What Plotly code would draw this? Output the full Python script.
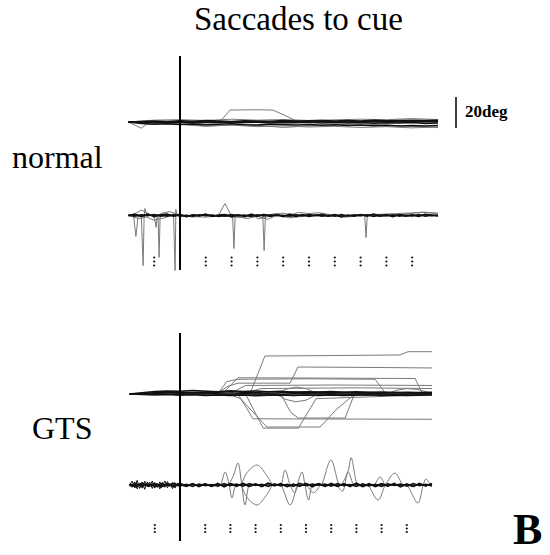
import plotly.graph_objects as go

# ---------------- data (time in ms relative to cue, values in deg) ----------------
T50 = [-200, -150, -100, -50, 0, 50, 100, 150, 200, 250, 300, 350, 400, 450, 500,
       550, 600, 650, 700, 750, 800, 850, 900, 950, 1000]
T25 = [-200, -175, -150, -125, -100, -75, -50, -25, 0, 25, 50, 75, 100, 125, 150, 175,
       200, 225, 250, 275, 300, 325, 350, 375, 400, 425, 450, 475, 500, 525, 550, 575,
       600, 625, 650, 675, 700, 725, 750, 775, 800, 825, 850, 875, 900, 925, 950, 975, 1000]
T10_PRE = [-200, -190, -180, -170, -160, -150, -140, -130, -120, -110, -100, -90, -80,
           -70, -60, -50, -40, -30, -20, -10, 0]
TICKS = [-100, 100, 200, 300, 400, 500, 600, 700, 800, 900]
SCALE_DEG = 20

# normal - eye position (black bundle)
NP_B1 = [0, 0.4, 0.6, 0.3, 0.8, 0.5, 0.9, 0.6, 0.4, 0.8, 0.7, 0.5, 0.9, 0.6, 0.8, 1.0, 0.7, 0.9, 0.6, 1.1, 0.8, 1.0, 1.2, 0.9, 1.1]
NP_B2 = [0, -0.3, -0.1, -0.5, -0.2, -0.6, -0.3, -0.1, -0.5, -0.4, -0.2, -0.6, -0.3, -0.5, -0.2, -0.7, -0.4, -0.6, -0.3, -0.8, -0.5, -0.7, -0.4, -0.9, -0.6]
NP_B3 = [0, -1.0, -1.4, -1.1, -1.6, -1.3, -1.8, -1.5, -1.2, -1.7, -1.9, -1.4, -1.8, -2.0, -1.6, -2.1, -1.8, -2.2, -1.9, -2.4, -2.1, -2.5, -2.2, -2.6, -2.3]
NP_B4 = [0, 0.1, 0.3, 0.0, 0.2, -0.1, 0.3, 0.1, 0.2, 0.0, 0.4, 0.2, 0.1, 0.3, 0.0, 0.2, 0.4, 0.1, 0.3, 0.2, 0.5, 0.3, 0.1, 0.4, 0.2]
# normal - eye position (grey single trials)
NP_G1_T = [-200, -100, 0, 100, 150, 167, 194, 300, 360, 410, 453, 600, 800, 1000]
NP_G1_Y = [0, 0.3, 0.2, 0.4, 0.3, 2.5, 7.7, 7.9, 7.7, 4.0, 0.5, 0.2, -0.3, 0.2]
NP_G2_T = [-200, -170, -150, -130, -80, 0, 100, 200, 300, 400, 500, 600, 700, 800, 900, 1000]
NP_G2_Y = [0, -2.5, -4.0, -1.5, -1.0, -1.5, -2.5, -2.0, -3.0, -2.5, -3.2, -2.8, -3.5, -3.0, -3.8, -3.2]
NP_G3_T = [-200, -100, 0, 100, 200, 300, 400, 500, 600, 700, 800, 900, 1000]
NP_G3_Y = [0, 1.2, 1.5, 1.0, 1.8, 1.2, 1.6, 1.0, 1.4, 1.8, 1.5, 2.2, 1.6]
NP_G4_T = [-200, -50, 100, 250, 400, 550, 700, 850, 1000]
NP_G4_Y = [0, -0.8, -2.8, -1.5, -3.5, -2.0, -1.2, -2.6, -3.6]

# normal - eye velocity (black bundle)
NV_B1 = [0.3, -0.4, 0.5, -0.2, 0.6, -0.5, 0.2, -0.3, 0.4, -0.6, 0.3, -0.1, 0.5, -0.4, 0.2, -0.5, 0.6, -0.2, 0.3, -0.6,
         0.4, -0.3, 0.5, -0.1, 0.2, -0.5, 0.4, -0.3, 0.6, -0.2, 0.3, -0.4, 0.5, -0.6, 0.2, -0.3, 0.4, -0.1, 0.6, -0.5,
         0.3, -0.2, 0.5, -0.4, 0.1, -0.3, 0.6, -0.2, 0.4]
NV_B2 = [-0.2, 0.5, -0.6, 0.3, -0.1, 0.4, -0.5, 0.6, -0.3, 0.2, -0.4, 0.5, -0.2, 0.3, -0.6, 0.1, -0.3, 0.5, -0.4, 0.2,
         -0.5, 0.6, -0.1, 0.4, -0.3, 0.2, -0.6, 0.5, -0.2, 0.3, -0.4, 0.1, -0.5, 0.6, -0.3, 0.4, -0.2, 0.5, -0.6, 0.3,
         -0.1, 0.4, -0.5, 0.2, -0.3, 0.6, -0.4, 0.1, -0.2]
NV_B3 = [0.0, 0.8, -0.3, 1.0, -0.6, 0.5, 0.9, -0.4, 0.7, -0.8, 0.4, -0.2, 0.9, -0.7, 0.3, 0.6, -0.9, 0.2, -0.5, 0.8,
         -0.3, 0.7, -0.6, 0.4, -0.8, 0.9, -0.2, 0.5, -0.7, 0.3, 0.8, -0.4, 0.6, -0.9, 0.2, -0.3, 0.7, -0.5, 0.9, -0.1,
         0.4, -0.8, 0.6, -0.2, 0.5, -0.6, 0.8, 0.3, -0.4]
# normal - eye velocity (grey trials with saccadic spikes)
NV_S1_T = [-200, -180, -171, -162, -150, -143, -139, -136, -128, -100, -93, -88, -85, -81, -77, -60, -25, -19, -16, -12, 0, 1000]
NV_S1_Y = [0, 0, -13.5, 0, 0, -32.3, 0, 4.5, 0, 0, -7.7, 0, 0, -27.1, 0, 0, 0, -35.5, 3.9, 0, 0, 0]
NV_S2_T = [-200, 150, 160, 174, 188, 198, 204, 209, 214, 300, 321, 326, 331, 700, 716, 721, 726, 1000]
NV_S2_Y = [0, 0, 3.5, 7.7, 3.5, 0, 0, -21.3, 0, 0, 0, -22.6, 0, 0, 0, -14.2, 0, 0]
NV_W1_T = [-200, -170, -150, -120, -100, -70, -40, 0, 50, 100, 150, 250, 280, 300, 330, 360, 400, 430, 460, 500,
           540, 580, 620, 700, 800, 900, 950, 1000]
NV_W1_Y = [0, 1.5, 3.5, 1.0, -1.5, 1.5, 2.5, 0.5, -1, 0.5, 0, -1.5, 1.2, -2.0, -1.5, 1.0, 1.5, 0.5, 2.0, 1.2,
           1.8, 0.5, -0.5, 0.3, 0.8, 1.5, 2.0, 1.2]
NV_W2_T = [-200, -160, -130, -100, -60, -30, 0, 100, 200, 260, 300, 340, 380, 420, 480, 560, 640, 720, 800, 880, 940, 1000]
NV_W2_Y = [0, -2, -1, -3, -1.5, 0.5, -0.5, -1, 0.5, -2, -0.5, -2.5, 0.5, -1.5, -0.5, 0.5, -1, 0, -0.5, 1, 2.2, 1.5]

# GTS - eye position (black bundle)
GP_B1 = [0, 0.5, 0.8, 1.0, 1.2, 0.9, 1.3, 1.1, 1.5, 1.2, 1.0, 1.4, 1.1, 1.3, 1.0, 1.2, 0.9, 1.1, 0.8, 1.0, 0.7, 0.9, 0.6, 0.8, 0.7]
GP_B2 = [0, -0.3, -0.6, -0.4, -0.8, -0.5, -0.9, -0.6, -1.0, -0.7, -1.1, -0.8, -0.6, -1.0, -0.7, -0.9, -0.6, -1.0, -0.8, -0.5, -0.9, -0.7, -1.0, -0.8, -0.6]
GP_B3 = [0, 0.1, 0.3, -0.1, 0.2, 0.0, 0.4, 0.1, -0.2, 0.3, 0.0, 0.2, -0.1, 0.1, 0.3, 0.0, 0.2, -0.1, 0.1, 0.0, 0.2, -0.2, 0.1, 0.0, 0.1]
GP_B4 = [0, 1.0, 1.6, 2.0, 1.7, 2.2, 1.8, 1.5, 2.1, 1.6, 1.9, 1.4, 1.7, 1.2, 1.5, 1.3, 1.6, 1.2, 1.4, 1.1, 1.3, 1.0, 1.2, 0.9, 1.1]
# GTS - eye position (grey single trials)
GP_G = [
    ([-200, 100, 278, 337, 600, 873, 905, 1000], [0, 0.5, 0.3, 24.5, 24.8, 25.2, 27.3, 27.3]),
    ([-200, 150, 190, 230, 437, 468, 700, 1000], [0, 0.5, 5, 7, 7, 17.4, 17.2, 16.8]),
    ([-200, 150, 185, 230, 500, 774, 813, 1000], [0, 0, 8, 9.5, 9.8, 9.5, 1, 0.5]),
    ([-200, 170, 230, 600, 933, 960, 1000], [0, 0.5, 10.5, 10.3, 10, 1, 0.5]),
    ([-200, 200, 260, 600, 1000], [0, 0.5, 5.5, 5.8, 5.5]),
    ([-200, 250, 320, 700, 1000], [0, 0, 3.5, 4, 3.5]),
    ([-200, 200, 240, 345, 556, 620, 687, 1000], [0, -0.5, -3, -21.3, -21.3, -10, -1, -0.5]),
    ([-200, 230, 290, 1000], [0, 0, -16, -16.3]),
    ([-200, 400, 440, 470, 655, 690, 1000], [0, 0, -12, -15.5, -15.5, -1, 0]),
    ([-200, 260, 330, 470, 540, 1000], [0, 0, -22, -22, -3, -0.5]),
    ([-200, 380, 420, 460, 500, 540, 1000], [0, 0, -3.5, -5, -4, -0.5, 0]),
    ([-200, 380, 420, 460, 500, 540, 1000], [0, 0, 3, 4.5, 3.5, 0.5, 0]),
    ([-200, 820, 860, 900, 940, 980, 1000], [0, 0, 2.5, 3.5, 3, 1, 0.5]),
]

# GTS - eye velocity (black bundle)
GV_E1 = [0, 2.5, -1.8, 3.0, -2.2, 1.5, -2.8, 2.0, -1.2, 2.6, -2.0, 1.0, -2.5, 1.8, -1.5, 2.2, -1.0, 1.6, -2.0, 1.2, 0]
GV_E2 = [0, -1.5, 2.0, -2.5, 1.2, -2.0, 2.4, -1.0, 1.8, -2.2, 1.4, -1.6, 2.0, -1.2, 2.6, -1.8, 1.0, -2.3, 1.5, -0.8, 0]
GV_B1 = [0.6, -0.8, 1.0, -0.5, 0.9, -1.1, 0.4, -0.7, 0.3, -0.9, 0.7, -0.4, 0.8, -1.0, 0.5, -0.6, 0.9, -0.3, 0.6, -1.0,
         0.4, -0.8, 1.1, -0.5, 0.7, -0.9, 0.3, -0.6, 0.8, -0.4, 1.0, -0.7, 0.5, -0.9, 0.6, -0.3, 0.8, -1.1, 0.4, -0.6,
         0.9, -0.5, 0.7, -0.8, 0.3, -1.0, 0.6, -0.4, 0.8]
GV_B2 = [-0.5, 0.9, -0.7, 0.6, -1.0, 0.8, -0.3, 1.1, -0.6, 0.4, -0.9, 0.7, -0.5, 0.3, -0.8, 1.0, -0.4, 0.6, -0.7, 0.9,
         -0.3, 0.5, -1.0, 0.8, -0.6, 0.4, -0.9, 1.1, -0.5, 0.7, -0.2, 0.6, -0.8, 0.9, -0.4, 0.3, -1.0, 0.7, -0.6, 0.5,
         -0.9, 0.8, -0.3, 0.6, -0.7, 1.0, -0.5, 0.4, -0.6]
GV_B3 = [0.2, -1.2, 1.4, -0.9, 1.1, -1.3, 0.8, -1.0, 1.2, -0.7, 0.9, -1.1, 0.6, -0.8, 1.0, -1.2, 0.7, -0.9, 1.1, -0.6,
         0.8, -1.0, 1.2, -0.5, 0.9, -1.1, 0.6, -0.8, 1.0, -1.3, 0.7, -0.9, 1.1, -0.6, 0.8, -1.0, 1.3, -0.7, 0.9, -1.1,
         0.5, -0.8, 1.0, -1.2, 0.7, -0.9, 1.1, -0.6, 0.8]
# GTS - eye velocity (grey trials, smooth oscillations; flat guard samples around each burst)
GV_G = [
    ([-200, 180, 190, 212, 230, 245, 258, 275, 285, 390, 400, 417, 437, 455, 470, 480, 1000],
     [0, 0, 0, 6, 14.2, 0, -12.9, 0, 0, 0, 0, 9.7, 0, -5, 0, 0, 0]),
    ([-200, 230, 240, 266, 306, 345, 370, 380, 1000], [0, 0, 0, 8, 12.9, 6, 0, 0, 0]),
    ([-200, 230, 240, 266, 306, 345, 370, 380, 490, 500, 530, 560, 570, 1000],
     [0, 0, 0, -8, -12.9, -6, 0, 0, 0, 0, -5, 0, 0, 0]),
    ([-200, 150, 160, 179, 195, 206, 222, 232, 390, 400, 437, 465, 484, 496, 510, 525, 535, 1000],
     [0, 0, 0, 8.4, 0, -8.4, 0, 0, 0, 0, -12.9, 0, 8.4, 0, -9.7, 0, 0, 0]),
    ([-200, 550, 560, 599, 635, 667, 679, 705, 715, 1000], [0, 0, 0, 16.1, 0, 9, 17.7, 0, 0, 0]),
    ([-200, 735, 745, 786, 815, 853, 885, 895, 1000], [0, 0, 0, -9.7, 0, 7.7, 0, 0, 0]),
    ([-200, 890, 900, 944, 965, 976, 995, 1000], [0, 0, 0, -11.6, 0, 3.9, 0, 0]),
    ([-200, 610, 620, 645, 667, 690, 700, 760, 770, 794, 815, 825, 1000],
     [0, 0, 0, -4, 8.4, 0, 0, 0, 0, 5.2, 0, 0, 0]),
]

# ---------------- layout helpers ----------------
W, H = 550, 555
PX_PER_DEG = 1.55
CUE_PX = 180
K_TOP = 0.258   # px per ms, top block
K_BOT = 0.252   # px per ms, bottom block


def ypx(px):
    return -px / PX_PER_DEG


OFF_NP = ypx(122)
OFF_NV = ypx(215.5)
OFF_GP = ypx(394)
OFF_GV = ypx(485)

BLACK = "#111111"
GREY = "#7a7a7a"

fig = go.Figure()


def add(t, vals, off, axis, color=BLACK, width=1.1, shape="linear"):
    n = min(len(t), len(vals))
    fig.add_trace(go.Scatter(
        x=t[:n], y=[off + v for v in vals[:n]], mode="lines", xaxis=axis, yaxis="y",
        line=dict(color=color, width=width, shape=shape),
        hoverinfo="skip", showlegend=False))


# normal position
add(NP_G1_T, NP_G1_Y, OFF_NP, "x", GREY, 1)
add(NP_G2_T, NP_G2_Y, OFF_NP, "x", GREY, 1)
add(NP_G3_T, NP_G3_Y, OFF_NP, "x", GREY, 1)
add(NP_G4_T, NP_G4_Y, OFF_NP, "x", GREY, 1)
for s in (NP_B1, NP_B2, NP_B3, NP_B4):
    add(T50, s, OFF_NP, "x", BLACK, 1.5)

# normal velocity
add(NV_W1_T, NV_W1_Y, OFF_NV, "x", GREY, 1)
add(NV_W2_T, NV_W2_Y, OFF_NV, "x", GREY, 1)
add(NV_S1_T, NV_S1_Y, OFF_NV, "x", GREY, 1)
add(NV_S2_T, NV_S2_Y, OFF_NV, "x", GREY, 1)
for s in (NV_B1, NV_B2, NV_B3):
    add(T25, s, OFF_NV, "x", BLACK, 1.5)

# GTS position
for tt, yy in GP_G:
    add(tt, yy, OFF_GP, "x2", GREY, 1)
for s in (GP_B1, GP_B2, GP_B3, GP_B4):
    add(T50, s, OFF_GP, "x2", BLACK, 1.5)

# GTS velocity
for tt, yy in GV_G:
    add(tt, yy, OFF_GV, "x2", GREY, 1, "spline")
add(T10_PRE, GV_E1, OFF_GV, "x2", BLACK, 1)
add(T10_PRE, GV_E2, OFF_GV, "x2", BLACK, 1)
for s in (GV_B1, GV_B2, GV_B3):
    add(T25, s, OFF_GV, "x2", BLACK, 1.5)

# time markers (dotted ticks)
for axis, rows in (("x", (257.5, 261.5, 265.5)), ("x2", (525, 528.5, 532))):
    xs, ys = [], []
    for tk in TICKS:
        for r in rows:
            xs.append(tk)
            ys.append(ypx(r))
    fig.add_trace(go.Scatter(x=xs, y=ys, mode="markers", xaxis=axis, yaxis="y",
                             marker=dict(color=BLACK, size=2.2, line=dict(width=0)),
                             hoverinfo="skip", showlegend=False))

# cue onset lines
fig.add_shape(type="line", xref="x", yref="y", x0=0, x1=0, y0=ypx(56), y1=ypx(270),
              line=dict(color="black", width=2))
fig.add_shape(type="line", xref="x2", yref="y", x0=0, x1=0, y0=ypx(333), y1=ypx(541),
              line=dict(color="black", width=2))
# scale bar
sb_x = (456 - CUE_PX) / K_TOP
fig.add_shape(type="line", xref="x", yref="y", x0=sb_x, x1=sb_x,
              y0=ypx(128), y1=ypx(128) + SCALE_DEG, line=dict(color="black", width=1.5))

SERIF = "Liberation Serif, Times New Roman, serif"


def label(text, x, y, size, bold=False, xanchor="left"):
    fig.add_annotation(text=f"<b>{text}</b>" if bold else text, xref="paper", yref="paper",
                       x=x / W, y=1 - y / H, xanchor=xanchor, yanchor="middle", showarrow=False,
                       font=dict(family=SERIF, size=size, color="black"))


label("Saccades to cue", 298, 19, 33, xanchor="center")
label("normal", 10, 157, 32)
label("GTS", 30, 428, 32)
label(f"{SCALE_DEG}deg", 463, 112, 17, bold=True)
label("B", 511, 529, 44, bold=True)

fig.update_layout(
    width=W, height=H, margin=dict(l=0, r=0, t=0, b=0),
    paper_bgcolor="white", plot_bgcolor="white",
    xaxis=dict(range=[-CUE_PX / K_TOP, (W - CUE_PX) / K_TOP], visible=False, domain=[0, 1]),
    xaxis2=dict(range=[-CUE_PX / K_BOT, (W - CUE_PX) / K_BOT], visible=False,
                overlaying="x", anchor="y"),
    yaxis=dict(range=[ypx(H), 0], visible=False, domain=[0, 1]),
)

fig.write_html("out.html", config={"displayModeBar": False},
               post_script="document.body.style.margin='0';document.body.style.overflow='hidden';")
